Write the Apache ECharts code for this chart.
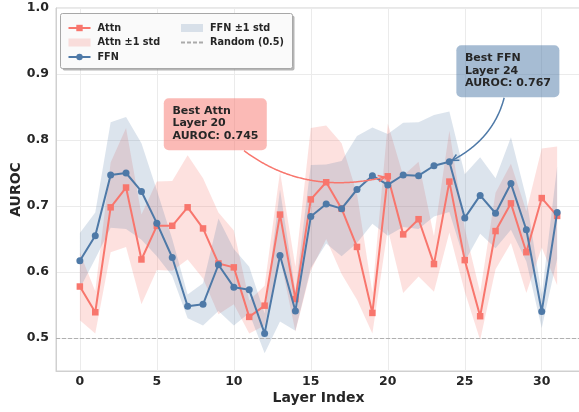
<!DOCTYPE html>
<html><head><meta charset="utf-8">
<script src="https://cdn.jsdelivr.net/npm/echarts@6/dist/echarts.min.js"></script>
<style>html,body{margin:0;padding:0;background:#fff}#c{width:579px;height:412px}</style>
</head><body><div id="c"></div>
<script>
const layers = [0,1,2,3,4,5,6,7,8,9,10,11,12,13,14,15,16,17,18,19,20,21,22,23,24,25,26,27,28,29,30,31];
const attnMean = [0.578,0.539,0.698,0.728,0.619,0.670,0.670,0.698,0.666,0.613,0.607,0.532,0.549,0.687,0.559,0.710,0.736,0.696,0.638,0.538,0.745,0.657,0.680,0.612,0.737,0.618,0.533,0.662,0.704,0.630,0.712,0.685];
const attnStd  = [0.051,0.032,0.068,0.090,0.068,0.067,0.068,0.079,0.076,0.077,0.056,0.025,0.030,0.065,0.049,0.108,0.086,0.099,0.080,0.031,0.080,0.089,0.087,0.042,0.077,0.048,0.036,0.058,0.060,0.062,0.075,0.105];
const ffnMean  = [0.617,0.655,0.747,0.750,0.722,0.674,0.622,0.548,0.551,0.611,0.577,0.573,0.507,0.625,0.541,0.684,0.703,0.696,0.725,0.746,0.732,0.747,0.746,0.761,0.767,0.682,0.716,0.689,0.734,0.664,0.540,0.690];
const ffnStd   = [0.042,0.035,0.080,0.085,0.073,0.050,0.028,0.018,0.032,0.070,0.058,0.035,0.030,0.100,0.030,0.078,0.060,0.072,0.081,0.073,0.077,0.079,0.081,0.077,0.076,0.066,0.058,0.053,0.070,0.048,0.025,0.070];
const randomLevel = 0.5;
const xTickLabels = ['0','5','10','15','20','25','30'];
const yTickLabels = ['0.5','0.6','0.7','0.8','0.9','1.0'];

const FONT = '"DejaVu Sans", sans-serif';
const ATTN = '#F8766D', FFN = '#4E79A7';
const ATTN_BAND = 'rgba(248,118,109,0.22)', FFN_BAND = 'rgba(78,121,167,0.2)';
const TXT = '#262626';

const pairs = arr => layers.map((x,i)=>[x,arr[i]]);
const bandData = (mean, std) => layers.map((x,i)=>[x, mean[i]-std[i], mean[i]+std[i]]);

function bandSeries(name, mean, std, fill){
  const data = bandData(mean, std);
  return {name:name, type:'custom', data:data, encode:{x:0, y:[1,2]}, itemStyle:{color:fill}, z:1, silent:true,
    renderItem:(params, api)=>{
      if(params.dataIndex !== 0) return null;
      const up = data.map(r=>api.coord([r[0], r[2]]));
      const lo = data.map(r=>api.coord([r[0], r[1]])).reverse();
      return {type:'polygon', shape:{points:up.concat(lo)}, style:{fill:fill}, silent:true};
    }};
}

const chart = echarts.init(document.getElementById('c'), null, {renderer:'canvas'});
const legendText = {fontFamily:FONT, fontWeight:'bold', fontSize:9.7, color:TXT, lineHeight:12, padding:[0,0,0,2]};
chart.setOption({
  animation:false,
  backgroundColor:'#fff',
  grid:{left:56, right:-2, top:8, bottom:41, outerBoundsMode:'none', containLabel:false,
        show:true, borderColor:'#d0d0d0', borderWidth:1, backgroundColor:'transparent'},
  xAxis:{type:'value', min:-1.55, max:32.55, splitNumber:7,
    axisLine:{show:true, onZero:false, lineStyle:{color:'#d0d0d0', width:1}}, axisTick:{show:false},
    axisLabel:{fontFamily:FONT, fontWeight:'bold', fontSize:12.5, color:TXT, margin:4,
      formatter:v=>{const s=String(Math.round(v)); return (Math.abs(v-Math.round(v))<1e-6 && xTickLabels.includes(s))?s:'';}},
    splitLine:{show:true, lineStyle:{color:'#ebebeb', width:1}},
    name:'Layer Index', nameLocation:'middle', nameGap:20, nameMoveOverlap:false,
    nameTextStyle:{fontFamily:FONT, fontWeight:'bold', fontSize:14, color:TXT}},
  yAxis:{type:'value', min:0.45, max:1.0, splitNumber:5,
    axisLine:{show:true, onZero:false, lineStyle:{color:'#d0d0d0', width:1}}, axisTick:{show:false},
    axisLabel:{fontFamily:FONT, fontWeight:'bold', fontSize:12.5, color:TXT, margin:7,
      formatter:v=>{const s=v.toFixed(1); return (Math.abs(v*10-Math.round(v*10))<1e-6 && yTickLabels.includes(s))?s:'';}},
    splitLine:{show:true, lineStyle:{color:'#ebebeb', width:1}},
    name:'AUROC', nameLocation:'middle', nameGap:33, nameMoveOverlap:false,
    nameTextStyle:{fontFamily:FONT, fontWeight:'bold', fontSize:14, color:TXT}},
  legend:[
    {left:67.5, top:22, padding:0, orient:'vertical', itemWidth:22, itemHeight:8, itemGap:2.5, selectedMode:false, z:21,
     textStyle:legendText,
     data:[{name:'Attn'},{name:'Attn ±1 std', icon:'rect', itemStyle:{color:ATTN_BAND}},{name:'FFN'}]},
    {left:180, top:22, padding:0, orient:'vertical', itemWidth:22, itemHeight:8, itemGap:2.5, selectedMode:false, z:21,
     textStyle:legendText,
     data:[{name:'FFN ±1 std', icon:'rect', itemStyle:{color:FFN_BAND}},{name:'Random (0.5)', itemStyle:{opacity:0}}]}
  ],
  series:[
    bandSeries('Attn ±1 std', attnMean, attnStd, ATTN_BAND),
    bandSeries('FFN ±1 std', ffnMean, ffnStd, FFN_BAND),
    {name:'Random (0.5)', type:'line', data:[], symbol:'none',
     lineStyle:{type:[4,2], color:'#aaaaaa', width:1}, itemStyle:{color:'#aaaaaa'},
     markLine:{silent:true, symbol:'none', label:{show:false}, lineStyle:{type:[4,2], color:'#b0b0b0', width:1},
       data:[{yAxis:randomLevel}]}, z:2},
    {name:'Attn', type:'line', data:pairs(attnMean), symbol:'rect', symbolSize:6.5, showAllSymbol:true,
     lineStyle:{width:2, color:ATTN}, itemStyle:{color:ATTN}, z:3},
    {name:'FFN', type:'line', data:pairs(ffnMean), symbol:'circle', symbolSize:7, showAllSymbol:true,
     lineStyle:{width:2, color:FFN}, itemStyle:{color:FFN}, z:4}
  ]
});

function argmax(a){let b=0;for(let i=1;i<a.length;i++) if(a[i]>a[b]) b=i;return b;}
const bestA = argmax(attnMean), bestF = argmax(ffnMean);

function annotation(target, box, rad, color, fill, text, textOff){
  const els = [];
  const cx = box.x + box.w/2, cy = box.y + box.h/2;
  const mx = (cx+target[0])/2, my = (cy+target[1])/2;
  const dx = target[0]-cx, dy = target[1]-cy;
  const C = [mx - rad*dy, my + rad*dx];
  const pts = [];
  const N = 200;
  for(let k=0;k<=N;k++){
    const t=k/N, u=1-t;
    const x=u*u*cx+2*t*u*C[0]+t*t*target[0];
    const y=u*u*cy+2*t*u*C[1]+t*t*target[1];
    const inside = x>=box.x && x<=box.x+box.w && y>=box.y && y<=box.y+box.h;
    const d = Math.hypot(x-target[0], y-target[1]);
    if(!inside && d>=2.7) pts.push([x,y]);
  }
  els.push({type:'polyline', z:30, silent:true, shape:{points:pts}, style:{stroke:color, lineWidth:1.5, fill:null}});
  const E = pts[pts.length-1], P = pts[pts.length-4];
  let vx=E[0]-P[0], vy=E[1]-P[1]; const L=Math.hypot(vx,vy); vx/=L; vy/=L;
  const hl=6.5, hw=3.2;
  const w1=[E[0]-hl*vx+hw*(-vy), E[1]-hl*vy+hw*vx];
  const w2=[E[0]-hl*vx-hw*(-vy), E[1]-hl*vy-hw*vx];
  els.push({type:'polyline', z:30, silent:true, shape:{points:[w1,E,w2]}, style:{stroke:color, lineWidth:1.5, fill:null}});
  els.push({type:'rect', z:31, silent:true, shape:{x:box.x, y:box.y, width:box.w, height:box.h, r:5}, style:{fill:fill}});
  els.push({type:'text', z:32, silent:true, x:box.x+textOff[0], y:box.y+textOff[1],
    style:{text:text, fill:TXT, font:'bold 11px "DejaVu Sans"', lineHeight:12.4, verticalAlign:'top', align:'left'}});
  return els;
}

const pA = chart.convertToPixel({gridIndex:0}, [layers[bestA], attnMean[bestA]]);
const pF = chart.convertToPixel({gridIndex:0}, [layers[bestF], ffnMean[bestF]]);
const boxA = {x:pA[0]-224, y:pA[1]-78, w:103, h:52};
const boxF = {x:pF[0]+7, y:pF[1]-116.5, w:103, h:52};

const graphics = [
  {type:'rect', z:19, silent:true, shape:{x:62.5, y:15.5, width:232, height:55, r:2}, style:{fill:'rgba(120,120,120,0.55)'}},
  {type:'rect', z:20, silent:true, shape:{x:60.5, y:13.5, width:232, height:55, r:2}, style:{fill:'#fafafa', stroke:'#a8a8a8', lineWidth:1}}
].concat(
  annotation(pA, boxA, 0.3, ATTN, 'rgba(248,118,109,0.5)', `Best Attn\nLayer ${layers[bestA]}\nAUROC: ${attnMean[bestA].toFixed(3)}`, [8.7, 6.5]),
  annotation(pF, boxF, -0.3, FFN, 'rgba(78,121,167,0.5)', `Best FFN\nLayer ${layers[bestF]}\nAUROC: ${ffnMean[bestF].toFixed(3)}`, [8.6, 6.8])
);
chart.setOption({graphic:{elements:graphics}});
</script>
</body></html>
